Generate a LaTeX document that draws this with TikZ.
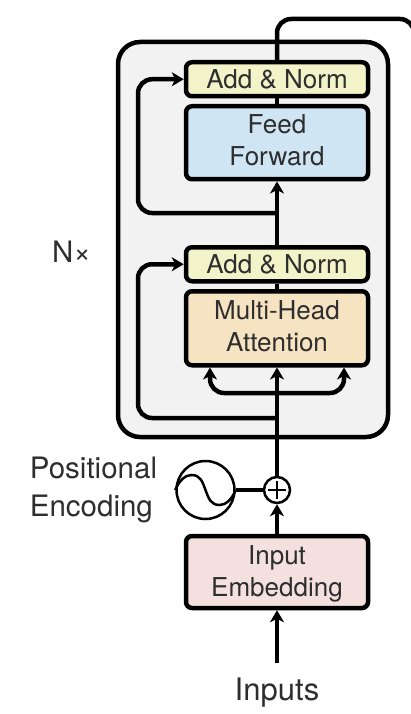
\documentclass[tikz,border=0pt]{standalone}
\usepackage{fontspec}
\setmainfont{TeX Gyre Heros}
\usepackage{xcolor}
\definecolor{normfill}{HTML}{F2F3C8}
\definecolor{feedfill}{HTML}{CFE5F3}
\definecolor{headfill}{HTML}{F6E3C1}
\definecolor{embedfill}{HTML}{F5E0E0}
\definecolor{stackfill}{HTML}{F2F2F2}
\definecolor{inkgray}{HTML}{2E2E2E}
\newcommand{\liftline}{\rule[-5pt]{0pt}{5pt}}
\newcommand{\dropline}{\rule{0pt}{22pt}}
\usetikzlibrary{arrows.meta,positioning,calc}

\begin{document}
\begin{tikzpicture}[x=1pt,y=-1pt,
  blk/.style={draw=black,line width=4.5pt,rounded corners=6pt,align=center,minimum width=182pt,
    inner sep=0pt,text=inkgray,font=\fontsize{26}{32}\selectfont},
  txt/.style={inner sep=0pt,align=left,text=inkgray,font=\fontsize{29.5}{38}\selectfont},
  arr/.style={-{Stealth[length=12pt,width=14pt,inset=3.5pt]},line width=4.5pt},
  lin/.style={line width=4.5pt}]
\useasboundingbox (0,0) rectangle (410,714);
% repeated stack
\node[draw=black,line width=4.5pt,rounded corners=22pt,fill=stackfill,minimum width=270pt,minimum height=395pt] (stack) at (253,239.5) {};
% input side
\node[blk,fill=embedfill,minimum height=72pt] (embed) at (277,572) {\dropline Input\\Embedding};
\node[draw=black,line width=2.5pt,circle,fill=white,minimum size=26pt,inner sep=0pt,above=29.5pt of embed] (plus) {};
\node[draw=black,line width=2.5pt,circle,minimum size=58pt,inner sep=0pt,left=27pt of plus] (sine) {};
\draw[line width=2.5pt] ($(plus.center)+(-9,0)$) -- ($(plus.center)+(9,0)$);
\draw[line width=2.5pt] ($(plus.center)+(0,-9)$) -- ($(plus.center)+(0,9)$);
\draw[line width=2.5pt] (sine.west) .. controls ($(sine.center)+(-26,-10)$) and ($(sine.center)+(-20,-15)$) .. ($(sine.center)+(-14,-15)$)
  .. controls ($(sine.center)+(-5,-15)$) and ($(sine.center)+(-3,-8)$) .. (sine.center)
  .. controls ($(sine.center)+(3,8)$) and ($(sine.center)+(5,15)$) .. ($(sine.center)+(14,15)$)
  .. controls ($(sine.center)+(20,15)$) and ($(sine.center)+(26,10)$) .. (sine.east);
% encoder layers
\node[blk,fill=headfill,minimum height=74pt,above=108.25pt of plus] (head) {Multi-Head\\Attention\liftline};
\node[blk,fill=normfill,minimum height=34pt,above=5.5pt of head] (norma) {Add \& Norm};
\node[blk,fill=feedfill,minimum height=73pt,above=63.5pt of norma] (feed) {Feed\\Forward\liftline};
\node[blk,fill=normfill,minimum height=34pt,above=5.5pt of feed] (normb) {Add \& Norm};
% labels
\node[txt,anchor=west] (nx) at (52,252) {N×};
\node[txt,anchor=east,left=18pt of sine] (pos) {Positional\\Encoding};
\node[txt,font=\fontsize{31}{38}\selectfont] (inp) at (277,693) {Inputs};
% free ends
\coordinate (start) at (277,663);
\coordinate (out) at (414,60);
\coordinate (fork) at (277,393);
\coordinate (skipa) at (277,418);
\coordinate (skipb) at (277,213);
\coordinate (lefta) at (138,418);
\coordinate (leftb) at (138,213);
% connectors
\draw[arr] (start) -- (embed.south);
\draw[arr] (embed.north) -- (plus.south);
\draw[lin] (sine.east) -- (plus.west);
\draw[arr] (plus.north) -- (head.south);
\draw[lin] (head.north) -- (norma.south);
\draw[arr] (norma.north) -- (feed.south);
\draw[lin] (feed.north) -- (normb.south);
\draw[lin,rounded corners=14pt] (normb.north) |- (414,19) -- (out);
\draw[arr,rounded corners=14pt] (fork) -| ($(head.south)+(-67,0)$);
\draw[arr,rounded corners=14pt] (fork) -| ($(head.south)+(67,0)$);
\draw[arr,rounded corners=14pt] (skipa) -- (lefta) |- (norma.west);
\draw[arr,rounded corners=14pt] (skipb) -- (leftb) |- (normb.west);
\end{tikzpicture}
\end{document}
